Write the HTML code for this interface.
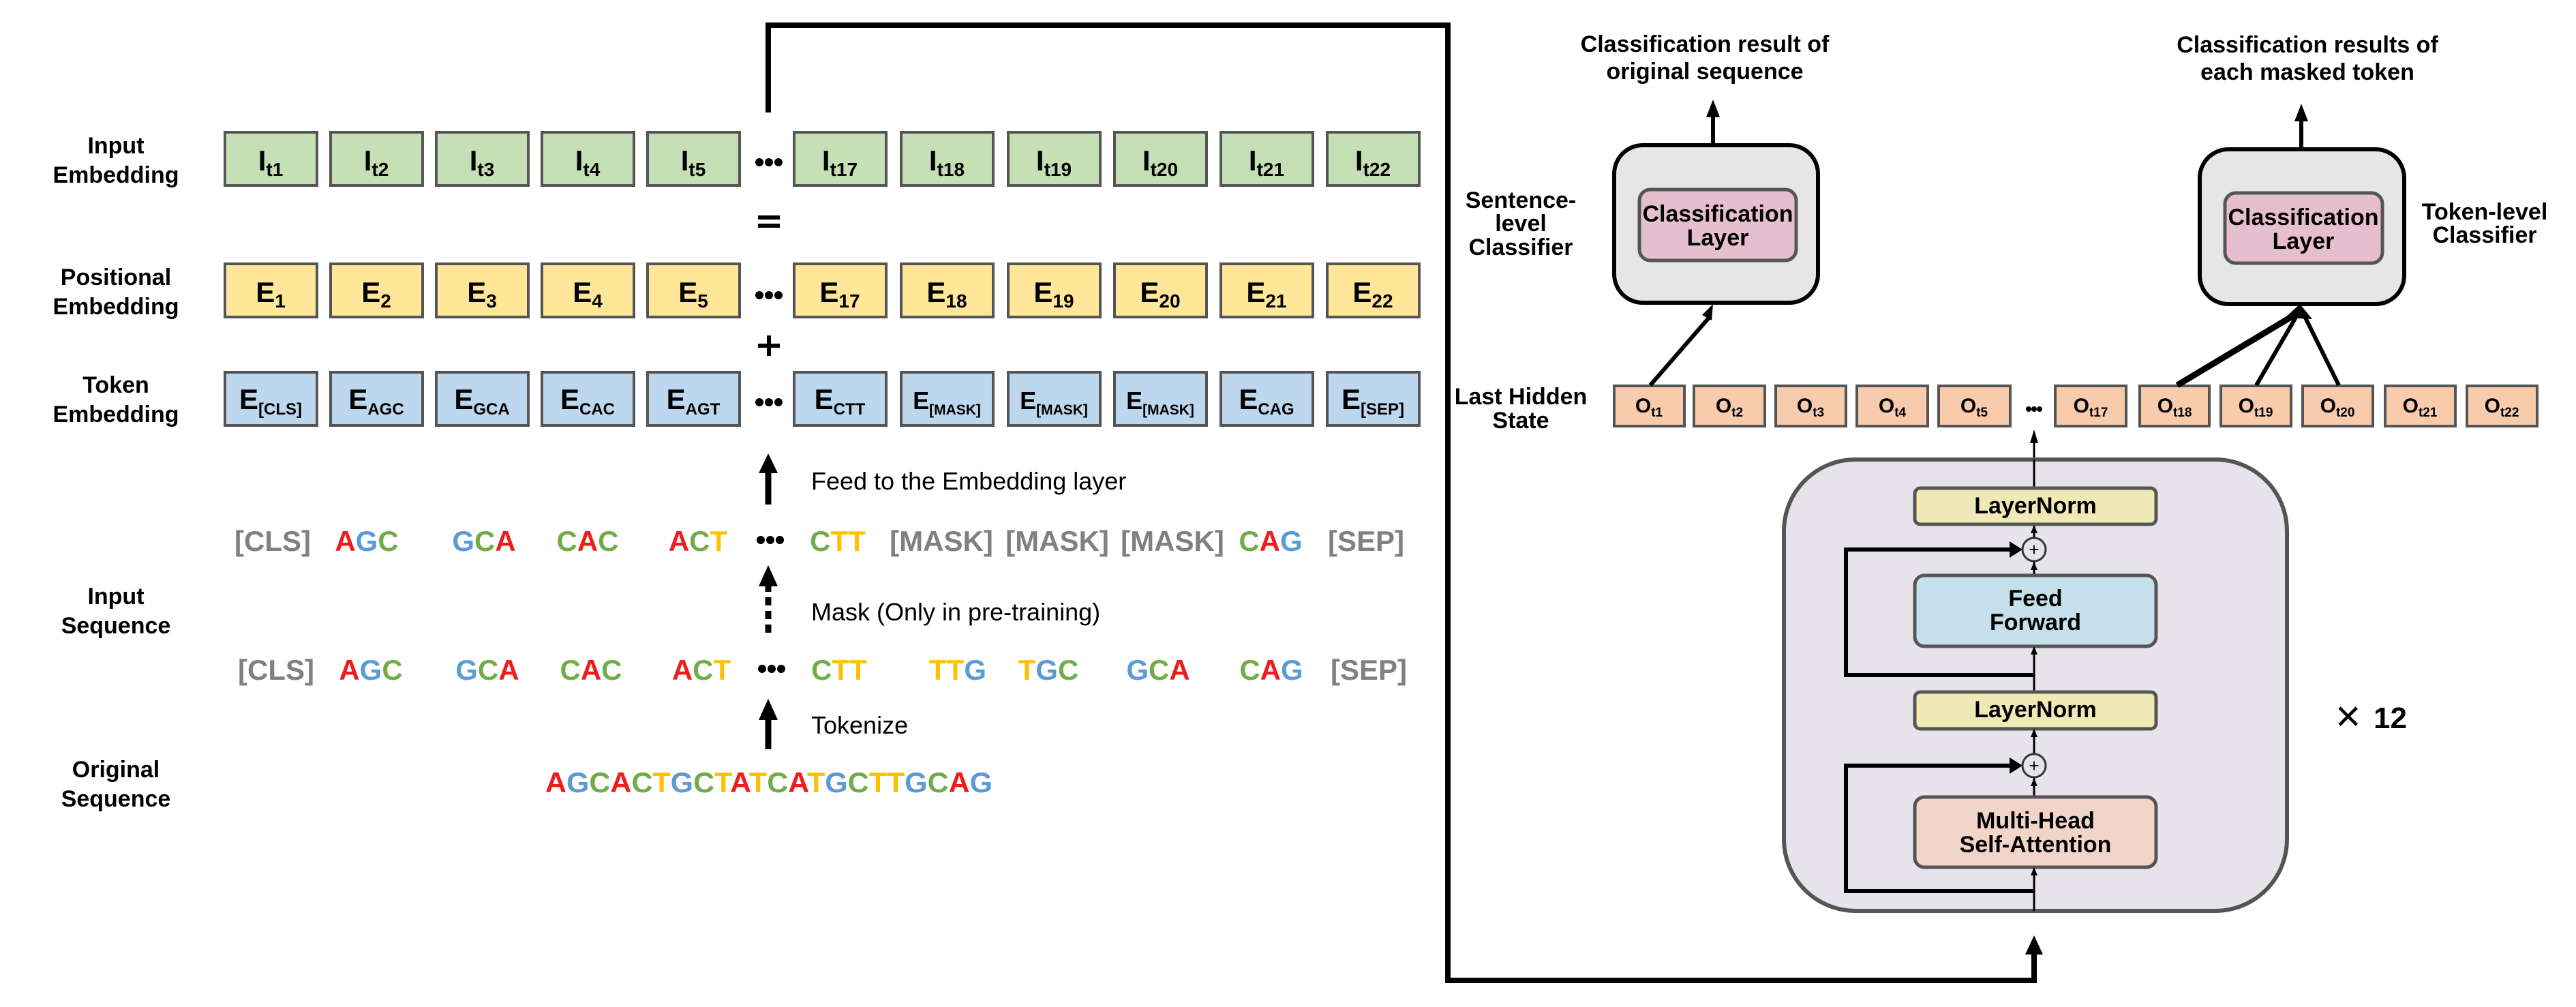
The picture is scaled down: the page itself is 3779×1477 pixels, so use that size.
<!DOCTYPE html>
<html><head><meta charset="utf-8"><style>
html,body{margin:0;padding:0;background:#fff;}
svg{display:block;}
text{font-family:"Liberation Sans Narrow","Liberation Sans",sans-serif;}
.lb{font-size:34px;font-weight:bold;text-anchor:middle;fill:#000;}
.bx{font-size:42px;font-weight:bold;text-anchor:middle;fill:#000;}
.sq{font-size:42px;font-weight:bold;text-anchor:middle;}
.ob{font-size:30px;font-weight:bold;text-anchor:middle;fill:#000;}
.R{fill:#ee1c1c}.G{fill:#5b9bd5}.C{fill:#70ad47}.T{fill:#ffc000}.K{fill:#808080}
</style></head><body>
<svg width="3779" height="1477" viewBox="0 0 3779 1477" xmlns="http://www.w3.org/2000/svg">

<!-- left labels -->
<text class="lb" x="170" y="225">Input</text><text class="lb" x="170" y="268">Embedding</text>
<text class="lb" x="170" y="418">Positional</text><text class="lb" x="170" y="461">Embedding</text>
<text class="lb" x="170" y="576">Token</text><text class="lb" x="170" y="619">Embedding</text>
<text class="lb" x="170" y="886">Input</text><text class="lb" x="170" y="929">Sequence</text>
<text class="lb" x="170" y="1140">Original</text><text class="lb" x="170" y="1183">Sequence</text>

<!-- green row -->
<g fill="#c5e0b4" stroke="#555" stroke-width="4">
<rect x="330" y="194" width="135" height="78"/><rect x="485" y="194" width="135" height="78"/><rect x="640" y="194" width="135" height="78"/><rect x="795" y="194" width="135" height="78"/><rect x="950" y="194" width="135" height="78"/>
<rect x="1165" y="194" width="135" height="78"/><rect x="1322" y="194" width="135" height="78"/><rect x="1479" y="194" width="135" height="78"/><rect x="1635" y="194" width="135" height="78"/><rect x="1791" y="194" width="135" height="78"/><rect x="1947" y="194" width="135" height="78"/>
</g>
<g class="bx">
<text x="397" y="250">I<tspan font-size="28" dy="8">t1</tspan></text>
<text x="552" y="250">I<tspan font-size="28" dy="8">t2</tspan></text>
<text x="707" y="250">I<tspan font-size="28" dy="8">t3</tspan></text>
<text x="862" y="250">I<tspan font-size="28" dy="8">t4</tspan></text>
<text x="1017" y="250">I<tspan font-size="28" dy="8">t5</tspan></text>
<text x="1232" y="250">I<tspan font-size="28" dy="8">t17</tspan></text>
<text x="1389" y="250">I<tspan font-size="28" dy="8">t18</tspan></text>
<text x="1546" y="250">I<tspan font-size="28" dy="8">t19</tspan></text>
<text x="1702" y="250">I<tspan font-size="28" dy="8">t20</tspan></text>
<text x="1858" y="250">I<tspan font-size="28" dy="8">t21</tspan></text>
<text x="2014" y="250">I<tspan font-size="28" dy="8">t22</tspan></text>
</g>

<!-- yellow row -->
<g fill="#ffe699" stroke="#555" stroke-width="4">
<rect x="330" y="387" width="135" height="78"/><rect x="485" y="387" width="135" height="78"/><rect x="640" y="387" width="135" height="78"/><rect x="795" y="387" width="135" height="78"/><rect x="950" y="387" width="135" height="78"/>
<rect x="1165" y="387" width="135" height="78"/><rect x="1322" y="387" width="135" height="78"/><rect x="1479" y="387" width="135" height="78"/><rect x="1635" y="387" width="135" height="78"/><rect x="1791" y="387" width="135" height="78"/><rect x="1947" y="387" width="135" height="78"/>
</g>
<g class="bx">
<text x="397" y="443">E<tspan font-size="28" dy="8">1</tspan></text>
<text x="552" y="443">E<tspan font-size="28" dy="8">2</tspan></text>
<text x="707" y="443">E<tspan font-size="28" dy="8">3</tspan></text>
<text x="862" y="443">E<tspan font-size="28" dy="8">4</tspan></text>
<text x="1017" y="443">E<tspan font-size="28" dy="8">5</tspan></text>
<text x="1232" y="443">E<tspan font-size="28" dy="8">17</tspan></text>
<text x="1389" y="443">E<tspan font-size="28" dy="8">18</tspan></text>
<text x="1546" y="443">E<tspan font-size="28" dy="8">19</tspan></text>
<text x="1702" y="443">E<tspan font-size="28" dy="8">20</tspan></text>
<text x="1858" y="443">E<tspan font-size="28" dy="8">21</tspan></text>
<text x="2014" y="443">E<tspan font-size="28" dy="8">22</tspan></text>
</g>

<!-- blue row -->
<g fill="#bdd7ee" stroke="#555" stroke-width="4">
<rect x="330" y="546" width="135" height="78"/><rect x="485" y="546" width="135" height="78"/><rect x="640" y="546" width="135" height="78"/><rect x="795" y="546" width="135" height="78"/><rect x="950" y="546" width="135" height="78"/>
<rect x="1165" y="546" width="135" height="78"/><rect x="1322" y="546" width="135" height="78"/><rect x="1479" y="546" width="135" height="78"/><rect x="1635" y="546" width="135" height="78"/><rect x="1791" y="546" width="135" height="78"/><rect x="1947" y="546" width="135" height="78"/>
</g>
<g class="bx">
<text x="397" y="600">E<tspan font-size="24" dy="8">[CLS]</tspan></text>
<text x="552" y="600">E<tspan font-size="24" dy="8">AGC</tspan></text>
<text x="707" y="600">E<tspan font-size="24" dy="8">GCA</tspan></text>
<text x="862" y="600">E<tspan font-size="24" dy="8">CAC</tspan></text>
<text x="1017" y="600">E<tspan font-size="24" dy="8">AGT</tspan></text>
<text x="1232" y="600">E<tspan font-size="24" dy="8">CTT</tspan></text>
<text x="1389" y="600" font-size="36">E<tspan font-size="21" dy="8">[MASK]</tspan></text>
<text x="1546" y="600" font-size="36">E<tspan font-size="21" dy="8">[MASK]</tspan></text>
<text x="1702" y="600" font-size="36">E<tspan font-size="21" dy="8">[MASK]</tspan></text>
<text x="1858" y="600">E<tspan font-size="24" dy="8">CAG</tspan></text>
<text x="2014" y="600">E<tspan font-size="24" dy="8">[SEP]</tspan></text>
</g>

<!-- dots / symbols -->
<g fill="#000">
<circle cx="1114" cy="238" r="6"/><circle cx="1128" cy="238" r="6"/><circle cx="1142" cy="238" r="6"/>
<circle cx="1114" cy="433" r="6"/><circle cx="1128" cy="433" r="6"/><circle cx="1142" cy="433" r="6"/>
<circle cx="1114" cy="590" r="6"/><circle cx="1128" cy="590" r="6"/><circle cx="1142" cy="590" r="6"/>
<circle cx="1116" cy="792" r="6"/><circle cx="1130" cy="792" r="6"/><circle cx="1144" cy="792" r="6"/>
<circle cx="1118" cy="981" r="6"/><circle cx="1132" cy="981" r="6"/><circle cx="1146" cy="981" r="6"/>
<rect x="1112" y="316" width="32" height="6"/><rect x="1112" y="328" width="32" height="6"/>
<rect x="1112" y="504" width="32" height="6"/><rect x="1125" y="492" width="6" height="30"/>
</g>

<!-- top connector -->
<path d="M1127,165 L1127,37 L2124,37 L2124,1438 L2984,1438 L2984,1395" fill="none" stroke="#000" stroke-width="8"/>
<path d="M2971,1400 L2984,1372 L2997,1400 z" fill="#000"/>

<!-- feed arrow -->
<line x1="1127" y1="740" x2="1127" y2="690" stroke="#000" stroke-width="9"/>
<path d="M1113,694 L1127,665 L1141,694 z" fill="#000"/>
<text x="1190" y="718" font-size="36" fill="#000">Feed to the Embedding layer</text>
<!-- mask dashed -->
<line x1="1127" y1="928" x2="1127" y2="858" stroke="#000" stroke-width="9" stroke-dasharray="12,8"/>
<path d="M1113,860 L1127,829 L1141,860 z" fill="#000"/>
<text x="1190" y="910" font-size="36" fill="#000">Mask (Only in pre-training)</text>
<!-- tokenize -->
<line x1="1127" y1="1099" x2="1127" y2="1052" stroke="#000" stroke-width="9"/>
<path d="M1113,1056 L1127,1025 L1141,1056 z" fill="#000"/>
<text x="1190" y="1076" font-size="36" fill="#000">Tokenize</text>

<!-- sequence row 1 -->
<g class="sq">
<text x="400" y="808" class="K">[CLS]</text>
<text x="538" y="808"><tspan class="R">A</tspan><tspan class="G">G</tspan><tspan class="C">C</tspan></text>
<text x="710" y="808"><tspan class="G">G</tspan><tspan class="C">C</tspan><tspan class="R">A</tspan></text>
<text x="862" y="808"><tspan class="C">C</tspan><tspan class="R">A</tspan><tspan class="C">C</tspan></text>
<text x="1024" y="808"><tspan class="R">A</tspan><tspan class="C">C</tspan><tspan class="T">T</tspan></text>
<text x="1229" y="808"><tspan class="C">C</tspan><tspan class="T">T</tspan><tspan class="T">T</tspan></text>
<text x="1381" y="808" class="K">[MASK]</text>
<text x="1551" y="808" class="K">[MASK]</text>
<text x="1720" y="808" class="K">[MASK]</text>
<text x="1864" y="808"><tspan class="C">C</tspan><tspan class="R">A</tspan><tspan class="G">G</tspan></text>
<text x="2004" y="808" class="K">[SEP]</text>
</g>
<!-- sequence row 2 -->
<g class="sq">
<text x="405" y="997" class="K">[CLS]</text>
<text x="544" y="997"><tspan class="R">A</tspan><tspan class="G">G</tspan><tspan class="C">C</tspan></text>
<text x="715" y="997"><tspan class="G">G</tspan><tspan class="C">C</tspan><tspan class="R">A</tspan></text>
<text x="867" y="997"><tspan class="C">C</tspan><tspan class="R">A</tspan><tspan class="C">C</tspan></text>
<text x="1029" y="997"><tspan class="R">A</tspan><tspan class="C">C</tspan><tspan class="T">T</tspan></text>
<text x="1231" y="997"><tspan class="C">C</tspan><tspan class="T">T</tspan><tspan class="T">T</tspan></text>
<text x="1405" y="997"><tspan class="T">T</tspan><tspan class="T">T</tspan><tspan class="G">G</tspan></text>
<text x="1538" y="997"><tspan class="T">T</tspan><tspan class="G">G</tspan><tspan class="C">C</tspan></text>
<text x="1699" y="997"><tspan class="G">G</tspan><tspan class="C">C</tspan><tspan class="R">A</tspan></text>
<text x="1865" y="997"><tspan class="C">C</tspan><tspan class="R">A</tspan><tspan class="G">G</tspan></text>
<text x="2008" y="997" class="K">[SEP]</text>
</g>
<!-- original sequence -->
<text x="1128" y="1162" class="sq" textLength="656" lengthAdjust="spacingAndGlyphs"><tspan class="R">A</tspan><tspan class="G">G</tspan><tspan class="C">C</tspan><tspan class="R">A</tspan><tspan class="C">C</tspan><tspan class="T">T</tspan><tspan class="G">G</tspan><tspan class="C">C</tspan><tspan class="T">T</tspan><tspan class="R">A</tspan><tspan class="T">T</tspan><tspan class="C">C</tspan><tspan class="R">A</tspan><tspan class="T">T</tspan><tspan class="G">G</tspan><tspan class="C">C</tspan><tspan class="T">T</tspan><tspan class="T">T</tspan><tspan class="G">G</tspan><tspan class="C">C</tspan><tspan class="R">A</tspan><tspan class="G">G</tspan></text>

<!-- right side: titles -->
<text class="lb" x="2501" y="76" font-size="29">Classification result of</text>
<text class="lb" x="2501" y="116" font-size="29">original sequence</text>
<text class="lb" x="3385" y="77" font-size="29">Classification results of</text>
<text class="lb" x="3385" y="117" font-size="29">each masked token</text>
<line x1="2513" y1="212" x2="2513" y2="170" stroke="#000" stroke-width="6"/>
<path d="M2503,172 L2513,146 L2523,172 z" fill="#000"/>
<line x1="3376" y1="219" x2="3376" y2="176" stroke="#000" stroke-width="6"/>
<path d="M3366,178 L3376,152 L3386,178 z" fill="#000"/>

<!-- classifiers -->
<rect x="2368" y="213" width="299" height="231" rx="42" fill="#e7e6e6" stroke="#000" stroke-width="6"/>
<rect x="2405" y="278" width="230" height="104" rx="16" fill="#e6bfcf" stroke="#555" stroke-width="5"/>
<text class="lb" x="2520" y="325" font-size="27">Classification</text>
<text class="lb" x="2520" y="360" font-size="27">Layer</text>
<rect x="3227" y="219" width="300" height="227" rx="42" fill="#e7e6e6" stroke="#000" stroke-width="6"/>
<rect x="3264" y="283" width="231" height="103" rx="16" fill="#e6bfcf" stroke="#555" stroke-width="5"/>
<text class="lb" x="3379" y="330" font-size="27">Classification</text>
<text class="lb" x="3379" y="365" font-size="27">Layer</text>

<text class="lb" x="2231" y="305" font-size="25">Sentence-</text>
<text class="lb" x="2231" y="339" font-size="25">level</text>
<text class="lb" x="2231" y="374" font-size="25">Classifier</text>
<text class="lb" x="3645" y="322" font-size="25">Token-level</text>
<text class="lb" x="3645" y="356" font-size="25">Classifier</text>
<text class="lb" x="2231" y="593" font-size="25">Last Hidden</text>
<text class="lb" x="2231" y="628" font-size="25">State</text>

<!-- hidden state boxes -->
<g fill="#f8cbad" stroke="#555" stroke-width="4">
<rect x="2368" y="566" width="103" height="59"/><rect x="2485" y="566" width="104" height="59"/><rect x="2605" y="566" width="103" height="59"/><rect x="2724" y="566" width="104" height="59"/><rect x="2844" y="566" width="105" height="59"/>
<rect x="3015" y="566" width="104" height="59"/><rect x="3139" y="566" width="102" height="59"/><rect x="3258" y="566" width="103" height="59"/><rect x="3378" y="566" width="103" height="59"/><rect x="3499" y="566" width="103" height="59"/><rect x="3619" y="566" width="103" height="59"/>
</g>
<g class="ob">
<text x="2419" y="605">O<tspan font-size="19" dy="6">t1</tspan></text>
<text x="2537" y="605">O<tspan font-size="19" dy="6">t2</tspan></text>
<text x="2656" y="605">O<tspan font-size="19" dy="6">t3</tspan></text>
<text x="2776" y="605">O<tspan font-size="19" dy="6">t4</tspan></text>
<text x="2896" y="605">O<tspan font-size="19" dy="6">t5</tspan></text>
<text x="3067" y="605">O<tspan font-size="19" dy="6">t17</tspan></text>
<text x="3190" y="605">O<tspan font-size="19" dy="6">t18</tspan></text>
<text x="3309" y="605">O<tspan font-size="19" dy="6">t19</tspan></text>
<text x="3429" y="605">O<tspan font-size="19" dy="6">t20</tspan></text>
<text x="3550" y="605">O<tspan font-size="19" dy="6">t21</tspan></text>
<text x="3670" y="605">O<tspan font-size="19" dy="6">t22</tspan></text>
</g>
<g fill="#000"><circle cx="2976" cy="600" r="4"/><circle cx="2984" cy="600" r="4"/><circle cx="2992" cy="600" r="4"/></g>

<!-- classifier arrows -->
<line x1="2421" y1="565" x2="2507" y2="466" stroke="#000" stroke-width="6"/>
<path d="M2497,462 L2513,446 L2511,470 z" fill="#000"/>
<line x1="3194" y1="565" x2="3366" y2="462" stroke="#000" stroke-width="9"/>
<line x1="3310" y1="565" x2="3370" y2="462" stroke="#000" stroke-width="6"/>
<line x1="3431" y1="565" x2="3380" y2="462" stroke="#000" stroke-width="6"/>
<path d="M3352,466 L3374,446 L3392,468 z" fill="#000"/>

<!-- arrow from transformer to hidden -->
<line x1="2984" y1="674" x2="2984" y2="648" stroke="#000" stroke-width="3"/>
<path d="M2978,650 L2984,630 L2990,650 z" fill="#000"/>

<!-- transformer block -->
<rect x="2617" y="674" width="738" height="662" rx="105" fill="#e6e3ea" stroke="#555" stroke-width="6"/>
<line x1="2984" y1="1336" x2="2984" y2="674" stroke="#000" stroke-width="3"/>
<path d="M2984,990 L2708,990 L2708,806 L2952,806" fill="none" stroke="#000" stroke-width="6"/>
<path d="M2948,794 L2967,806 L2948,818 z" fill="#000"/>
<path d="M2984,1307 L2708,1307 L2708,1123 L2952,1123" fill="none" stroke="#000" stroke-width="6"/>
<path d="M2948,1111 L2967,1123 L2948,1135 z" fill="#000"/>

<rect x="2809" y="716" width="354" height="53" rx="8" fill="#efe9b5" stroke="#555" stroke-width="5"/>
<text class="lb" x="2986" y="753" font-size="27">LayerNorm</text>
<rect x="2809" y="844" width="354" height="104" rx="14" fill="#c5e0ea" stroke="#555" stroke-width="5"/>
<text class="lb" x="2986" y="889" font-size="27">Feed</text>
<text class="lb" x="2986" y="924" font-size="27">Forward</text>
<rect x="2809" y="1015" width="354" height="54" rx="8" fill="#efe9b5" stroke="#555" stroke-width="5"/>
<text class="lb" x="2986" y="1052" font-size="27">LayerNorm</text>
<rect x="2809" y="1169" width="354" height="103" rx="14" fill="#f0d5c8" stroke="#555" stroke-width="5"/>
<text class="lb" x="2986" y="1215" font-size="27">Multi-Head</text>
<text class="lb" x="2986" y="1250" font-size="27">Self-Attention</text>

<g fill="#000">
<path d="M2979,782 L2984,770 L2989,782 z"/>
<path d="M2979,836 L2984,824 L2989,836 z"/>
<path d="M2979,960 L2984,948 L2989,960 z"/>
<path d="M2979,1081 L2984,1069 L2989,1081 z"/>
<path d="M2979,1153 L2984,1141 L2989,1153 z"/>
<path d="M2979,1284 L2984,1272 L2989,1284 z"/>
</g>
<circle cx="2984" cy="806" r="17" fill="#e6e3ea" stroke="#333" stroke-width="3"/>
<text x="2984" y="815" font-size="26" text-anchor="middle" fill="#000">+</text>
<circle cx="2984" cy="1123" r="17" fill="#e6e3ea" stroke="#333" stroke-width="3"/>
<text x="2984" y="1132" font-size="26" text-anchor="middle" fill="#000">+</text>

<text x="3426" y="1072" font-size="64" fill="#000">×</text>
<text x="3482" y="1068" font-size="44" font-weight="bold" fill="#000">12</text>
</svg>
</body></html>
